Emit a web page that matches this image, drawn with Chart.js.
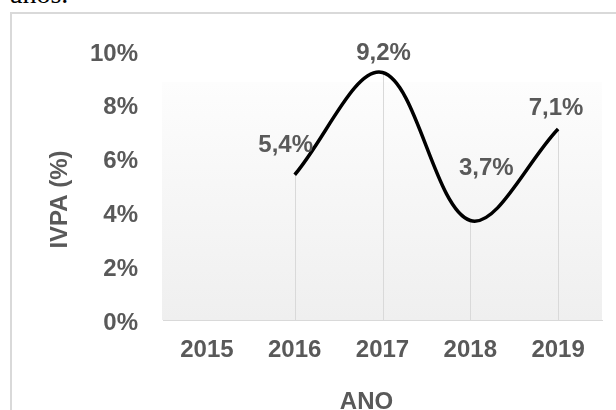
<!DOCTYPE html>
<html lang="pt">
<head>
<meta charset="utf-8">
<script src="https://cdn.jsdelivr.net/npm/chart.js@4/dist/chart.umd.min.js"></script>
<style>
    body { margin: 0; width: 616px; height: 410px; overflow: hidden; background: #fff; position: relative; }
    #texto { position: absolute; left: 10px; top: -20px; font: 28px "Liberation Serif", serif; line-height: 28px; color: #000; }
    #moldura { position: absolute; left: 10px; top: 12px; width: 700px; height: 500px; border: 2px solid #d9d9d9; }
    #grafico { position: absolute; left: 0; top: 0; }
</style>
</head>
<body>
<div id="texto">anos.</div>
<div id="moldura"></div>
<canvas id="grafico" width="616" height="410"></canvas>

<script>
// ===== DADOS =====
const anos = ["2015", "2016", "2017", "2018", "2019"];
const ivpa = [null, 5.4, 9.2, 3.7, 7.1];
const ticksY = [0, 2, 4, 6, 8, 10];
const tituloX = "ANO";
const tituloY = "IVPA (%)";

// ===== ESTILO =====
const FONTE = "'Liberation Sans Narrow', 'Arial Narrow', 'Liberation Sans', Arial, sans-serif";
const TAM = 24;
const CINZA = "#595959";

// deslocamento dos rotulos em relacao ao ponto (dx, dy)
const deslocRotulos = [[0, 0], [-9, -31], [1, -21], [16, -54], [-2, -22]];

function formatar(v) {
    return v.toFixed(1).replace(".", ",") + "%";
}

// fundo em degrade da area do grafico
const fundo = {
    id: "fundo",
    beforeDraw(chart) {
        const { ctx, chartArea: a } = chart;
        const topo = a.top + 31;
        const g = ctx.createLinearGradient(0, topo, 0, a.bottom);
        g.addColorStop(0, "#fdfdfd");
        g.addColorStop(1, "#efefef");
        ctx.save();
        ctx.fillStyle = g;
        ctx.fillRect(a.left - 1, topo, a.right - a.left + 1, a.bottom - topo);
        ctx.restore();
    }
};

// linhas de chamada (ponto ate o eixo)
const linhasQueda = {
    id: "linhasQueda",
    beforeDatasetsDraw(chart) {
        const { ctx, chartArea: a } = chart;
        const meta = chart.getDatasetMeta(0);
        ctx.save();
        ctx.strokeStyle = "#d9d9d9";
        ctx.lineWidth = 1;
        meta.data.forEach((p, i) => {
            if (ivpa[i] === null) return;
            const x = Math.round(p.x) + 0.5;
            ctx.beginPath();
            ctx.moveTo(x, p.y);
            ctx.lineTo(x, a.bottom);
            ctx.stroke();
        });
        ctx.restore();
    }
};

// rotulos de dados
const rotulos = {
    id: "rotulos",
    afterDatasetsDraw(chart) {
        const { ctx } = chart;
        const meta = chart.getDatasetMeta(0);
        ctx.save();
        ctx.font = "bold " + TAM + "px " + FONTE;
        ctx.fillStyle = CINZA;
        ctx.textAlign = "center";
        ctx.textBaseline = "middle";
        meta.data.forEach((p, i) => {
            if (ivpa[i] === null) return;
            const [dx, dy] = deslocRotulos[i];
            ctx.fillText(formatar(ivpa[i]), p.x + dx, p.y + dy + 1.5);
        });
        ctx.restore();
    }
};

// titulos dos eixos
const titulos = {
    id: "titulos",
    afterDraw(chart) {
        const { ctx, chartArea: a } = chart;
        ctx.save();
        ctx.font = "bold " + TAM + "px " + FONTE;
        ctx.fillStyle = CINZA;
        ctx.textAlign = "center";
        ctx.textBaseline = "alphabetic";
        ctx.fillText(tituloX, (a.left + a.right) / 2 - 16, a.bottom + 89);

        ctx.translate(a.left - 96, (a.top + a.bottom) / 2 + 14);
        ctx.rotate(-Math.PI / 2);
        ctx.fillText(tituloY, 0, 0);
        ctx.restore();
    }
};

const ctx = document.getElementById("grafico").getContext("2d");

window.grafico = new Chart(ctx, {
    type: "line",
    data: {
        labels: anos,
        datasets: [{
            label: tituloY,
            data: ivpa,
            borderColor: "#000",
            borderWidth: 3.5,
            pointRadius: 0,
            fill: false,
            tension: 0.35
        }]
    },
    options: {
        responsive: false,
        animation: false,
        layout: { padding: { left: 0, right: 14, top: 51, bottom: 0 } },
        plugins: {
            legend: { display: false },
            tooltip: { enabled: false }
        },
        scales: {
            x: {
                offset: true,
                grid: { display: false, drawTicks: false },
                border: { color: "#d9d9d9", width: 1 },
                ticks: {
                    color: CINZA,
                    padding: 16,
                    font: { family: FONTE, size: TAM, weight: "bold" }
                },
                afterFit(s) { s.height = 90; }
            },
            y: {
                min: 0,
                max: 10,
                afterBuildTicks(s) { s.ticks = ticksY.map(v => ({ value: v })); },
                grid: { display: false, drawTicks: false },
                border: { display: false },
                ticks: {
                    color: CINZA,
                    padding: 25,
                    labelOffset: 3,
                    font: { family: FONTE, size: TAM, weight: "bold" },
                    callback: v => v + "%"
                },
                afterFit(s) { s.width = 163; }
            }
        }
    },
    plugins: [fundo, linhasQueda, rotulos, titulos]
});
</script>
</body>
</html>
